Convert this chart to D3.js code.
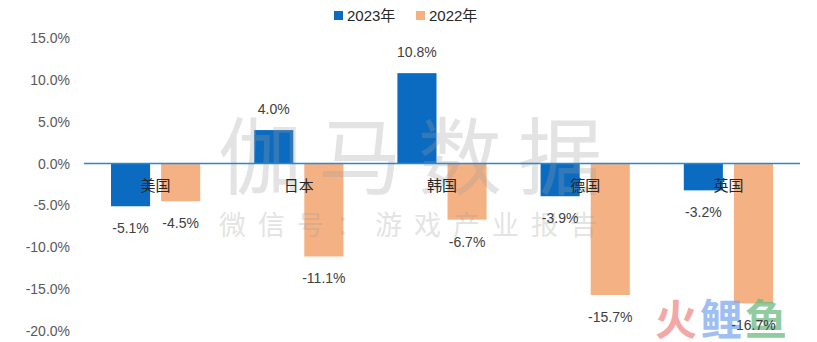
<!DOCTYPE html>
<html><head><meta charset="utf-8">
<script src="https://cdn.jsdelivr.net/npm/d3@7"></script>
<style>body{margin:0;background:#fff}svg{display:block;font-family:"Liberation Sans","Noto Sans CJK SC",sans-serif}</style>
</head><body><svg id="c" width="817" height="342"></svg>
<script>
const categories = ["美国","日本","韩国","德国","英国"];
const seriesNames = ["2023年","2022年"];
const values2023 = [-5.1, 4.0, 10.8, -3.9, -3.2];
const values2022 = [-4.5, -11.1, -6.7, -15.7, -16.7];
const yTicks = [15,10,5,0,-5,-10,-15,-20];
const colors = ["#0A6BC1","#F4B183"];

const svg = d3.select("#c");
const x = d3.scaleBand().domain(categories).range([84,800]);
const inner = d3.scaleBand().domain(seriesNames).range([27, 143.2-27]).paddingInner(0.22);
const y = d3.scaleLinear().domain([-20,15]).range([331,38]);

// y axis labels
const yAxis = d3.axisLeft(y).tickValues(yTicks).tickSize(0).tickPadding(0).tickFormat(d => d.toFixed(1)+"%");
const ga = svg.append("g").attr("transform","translate(70,0)").call(yAxis);
ga.select(".domain").remove();
ga.selectAll("text").attr("font-size",14).attr("fill","#595959").attr("font-family","Liberation Sans, sans-serif");

const data = [];
categories.forEach((c,i)=>{
  data.push({c, s:seriesNames[0], v:values2023[i], col:colors[0]});
  data.push({c, s:seriesNames[1], v:values2022[i], col:colors[1]});
});

svg.append("g").selectAll("rect").data(data).join("rect")
  .attr("x", d => x(d.c)+inner(d.s))
  .attr("width", inner.bandwidth())
  .attr("y", d => y(Math.max(0,d.v)))
  .attr("height", d => Math.abs(y(d.v)-y(0)))
  .attr("fill", d => d.col);

// watermark
svg.append("text").attr("x",418).attr("y",188).attr("text-anchor","middle")
  .attr("font-size",84).attr("letter-spacing",16).attr("fill","#9e9e9e").attr("opacity",0.28)
  .attr("font-family","Noto Sans CJK SC").text("伽马数据");
svg.append("text").attr("x",414).attr("y",235).attr("text-anchor","middle")
  .attr("font-size",27).attr("letter-spacing",12).attr("fill","#9e9e9e").attr("opacity",0.28)
  .attr("font-family","Noto Sans CJK SC").text("微信号：游戏产业报告");

// zero line
svg.append("line").attr("x1",84).attr("x2",800).attr("y1",y(0)).attr("y2",y(0))
  .attr("stroke","#2E86D1").attr("stroke-width",1.5);

// logo
const logo = svg.append("g").attr("font-family","Noto Sans CJK SC").attr("font-weight","bold").attr("font-size",42).attr("opacity",0.75);
logo.append("text").attr("x",655).attr("y",335).attr("fill","#F08A8A").text("火");
logo.append("text").attr("x",700).attr("y",335).attr("fill","#7FAAF0").text("鲤");
logo.append("text").attr("x",745).attr("y",335).attr("fill","#6DBB82").text("鱼");

// category labels
svg.append("g").selectAll("text").data(categories).join("text")
  .attr("x", d => x(d)+x.bandwidth()/2).attr("y", y(0)+27)
  .attr("text-anchor","middle").attr("font-size",15).attr("fill","#262626")
  .attr("font-family","Noto Sans CJK SC").text(d => d);

// value labels
svg.append("g").selectAll("text").data(data).join("text")
  .attr("x", d => x(d.c)+inner(d.s)+inner.bandwidth()/2)
  .attr("y", d => d.v>=0 ? y(d.v)-16 : y(d.v)+27)
  .attr("text-anchor","middle").attr("font-size",14).attr("fill","#404040")
  .text(d => d.v.toFixed(1)+"%");

// legend
const lg = svg.append("g").attr("transform","translate(334,0)");
seriesNames.forEach((s,i)=>{
  const g = lg.append("g").attr("transform",`translate(${i*82},0)`);
  g.append("rect").attr("x",0).attr("y",11).attr("width",9).attr("height",9).attr("fill",colors[i]);
  g.append("text").attr("x",13).attr("y",21).attr("font-size",15).attr("fill","#262626").text(s);
});
</script></body></html>
